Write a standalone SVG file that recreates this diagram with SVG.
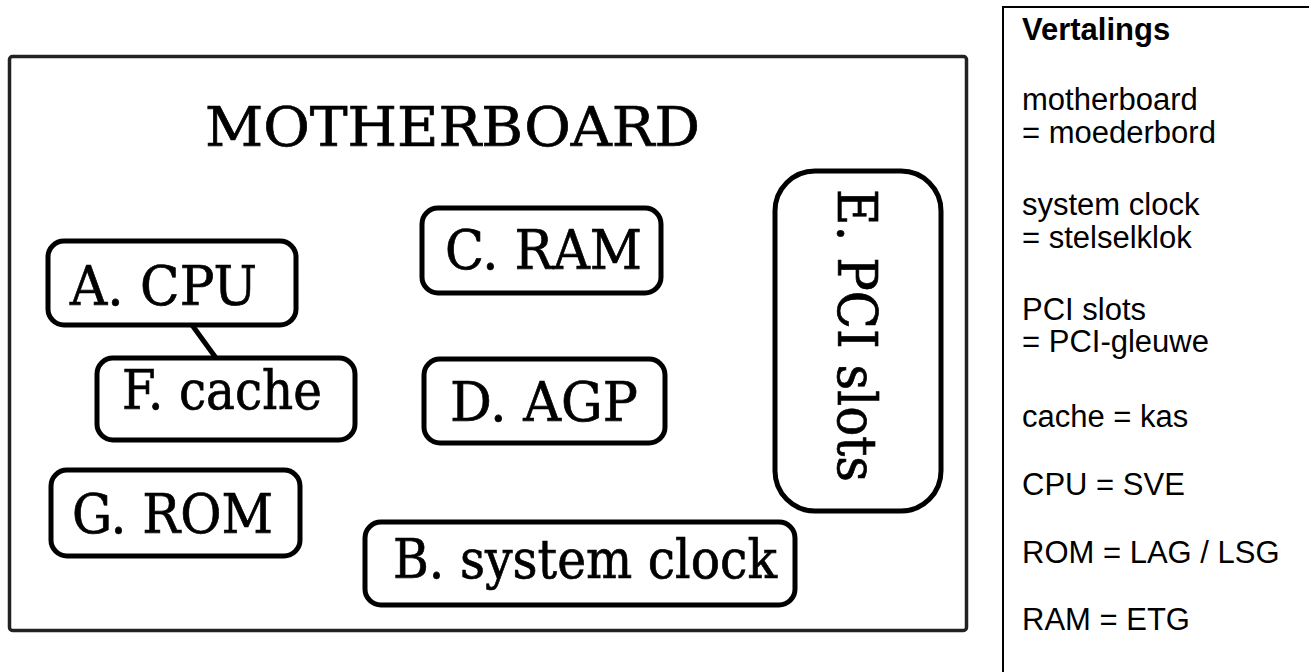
<svg xmlns="http://www.w3.org/2000/svg" width="1309" height="672" viewBox="0 0 1309 672">
<style>
.box{fill:#fff;stroke:#000;stroke-width:5}
.lbl{font-family:"DejaVu Serif","Liberation Serif",serif;font-size:54px;fill:#000;stroke:#000;stroke-width:0.7}
.lg{font-family:"Liberation Sans",Arial,sans-serif;font-size:31px;fill:#000}
</style>
<rect x="0" y="0" width="1309" height="672" fill="#fff"/>
<g id="motherboard">
<rect x="9.5" y="56.5" width="957" height="574" rx="3" fill="#fff" stroke="#222" stroke-width="3.5"/>
<text class="lbl" x="205" y="146" font-size="58" textLength="495" lengthAdjust="spacingAndGlyphs">MOTHERBOARD</text>
</g>
<g id="connectors">
<line x1="192" y1="325" x2="216" y2="358" stroke="#000" stroke-width="5"/>
</g>
<g id="cpu">
<rect class="box" x="48" y="241" width="248" height="84" rx="16"/>
<text class="lbl" x="70" y="305" textLength="187" lengthAdjust="spacingAndGlyphs">A. CPU</text>
</g>
<g id="cache">
<rect class="box" x="97" y="358" width="258" height="82" rx="16"/>
<text class="lbl" x="122" y="409" textLength="200" lengthAdjust="spacingAndGlyphs">F. cache</text>
</g>
<g id="rom">
<rect class="box" x="51" y="470" width="249" height="86" rx="16"/>
<text class="lbl" x="72" y="533" textLength="201" lengthAdjust="spacingAndGlyphs">G. ROM</text>
</g>
<g id="ram">
<rect class="box" x="422" y="208" width="239" height="85" rx="16"/>
<text class="lbl" x="445" y="269" textLength="197" lengthAdjust="spacingAndGlyphs">C. RAM</text>
</g>
<g id="agp">
<rect class="box" x="424" y="359" width="241" height="84" rx="16"/>
<text class="lbl" x="450" y="421" textLength="188" lengthAdjust="spacingAndGlyphs">D. AGP</text>
</g>
<g id="clock">
<rect class="box" x="365" y="522" width="430" height="83" rx="16"/>
<text class="lbl" x="393" y="578" textLength="384" lengthAdjust="spacingAndGlyphs">B. system clock</text>
</g>
<g id="pci">
<rect class="box" x="775" y="171" width="166" height="340" rx="40"/>
<text class="lbl" transform="translate(838,189) rotate(90)" x="0" y="0" textLength="293" lengthAdjust="spacingAndGlyphs">E. PCI slots</text>
</g>
<g id="legend">
<path d="M1309,7 H1003 V672" fill="none" stroke="#000" stroke-width="2"/>
<text class="lg" x="1022" y="40" font-weight="bold">Vertalings</text>
<text class="lg" x="1022" y="110">motherboard</text>
<text class="lg" x="1022" y="143">= moederbord</text>
<text class="lg" x="1022" y="215">system clock</text>
<text class="lg" x="1022" y="248">= stelselklok</text>
<text class="lg" x="1022" y="320">PCI slots</text>
<text class="lg" x="1022" y="352">= PCI-gleuwe</text>
<text class="lg" x="1022" y="427">cache = kas</text>
<text class="lg" x="1022" y="495">CPU = SVE</text>
<text class="lg" x="1022" y="563">ROM = LAG / LSG</text>
<text class="lg" x="1022" y="630">RAM = ETG</text>
</g>
</svg>
